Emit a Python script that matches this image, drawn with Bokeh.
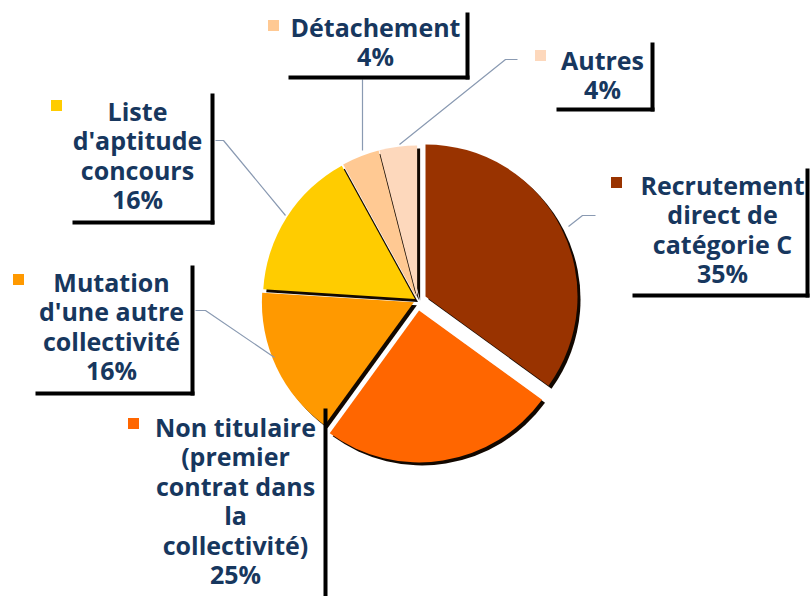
import math
from bokeh.plotting import figure
from bokeh.models import Range1d
from bokeh.embed import file_html
from bokeh.resources import INLINE
from bokeh.core.properties import value

# ---- data ----
categories = [
    "Recrutement\ndirect de\ncatégorie C",
    "Non titulaire\n(premier\ncontrat dans\nla\ncollectivité)",
    "Mutation\nd'une autre\ncollectivité",
    "Liste\nd'aptitude\nconcours",
    "Détachement",
    "Autres",
]
values = [35, 25, 16, 16, 4, 4]
colors = ["#993300", "#FF6600", "#FF9900", "#FFCC00", "#FFC993", "#FDD8BC"]

# ---- layout / style (screen pixel coordinates of the 811x597 window) ----
explode = [9, 10, 4, 3, 3, 3]
PIE_CX, PIE_CY, PIE_R = 417, 300, 152
SHADOW = 3
# text block: (center x, first-line center y)
label_pos = [(722, 184), (235, 426), (111, 281), (137, 110), (375, 26), (602, 59)]
square_pos = [(616, 182), (133, 423), (18, 279), (56, 105), (273, 25), (540, 55)]
# label-shadow lines: right (x, y0, y1), bottom (y, x0, x1) or None
frame_right = [(807, 168, 297), (325, 408, 600), (192, 265, 395), (212, 93, 224), (467, 12, 79), (652, 42, 111)]
frame_bottom = [(295, 632, 807), None, (393, 35, 192), (222, 72, 212), (77, 288, 467), (109, 556, 652)]
leaders = [
    [(595, 215), (582, 215), (568, 226)],
    None,
    [(195, 310), (205, 310), (274, 357)],
    [(215, 140), (223, 140), (285, 215)],
    [(362, 79), (362, 150)],
    [(517, 59), (505, 59), (399, 144)],
]
LH = 29.5
FONT = "Open Sans"
FONT_SIZE = "25px"
TEXT_COLOR = "#17375E"

W, H = 810, 596


def X(px):
    return px


def Y(py):
    return 597 - py


p = figure(width=W, height=H, output_backend="svg", toolbar_location=None,
           x_range=Range1d(0, W), y_range=Range1d(597 - H, 597), min_border=0)
p.axis.visible = False
p.xgrid.visible = False
p.ygrid.visible = False
p.outline_line_color = None
p.background_fill_color = "white"
p.border_fill_color = "white"

total = sum(values)
starts, ends, xs, ys = [], [], [], []
cum = 0
for v, e in zip(values, explode):
    a0 = math.pi / 2 - 2 * math.pi * cum / total
    a1 = math.pi / 2 - 2 * math.pi * (cum + v) / total
    mid = (a0 + a1) / 2
    starts.append(a0)
    ends.append(a1)
    xs.append(X(PIE_CX) + e * math.cos(mid))
    ys.append(Y(PIE_CY) + e * math.sin(mid))
    cum += v

# slice shadows
p.wedge(x=[x + SHADOW for x in xs], y=[y - SHADOW for y in ys], radius=PIE_R,
        radius_units="screen", start_angle=starts, end_angle=ends,
        direction="clock", fill_color="#120800", line_color=None)
# slices
p.wedge(x=xs, y=ys, radius=PIE_R, radius_units="screen", start_angle=starts,
        end_angle=ends, direction="clock", fill_color=colors, line_color=None)

# leaders
for ld in leaders:
    if ld is None:
        continue
    p.line([X(a) for a, b in ld], [Y(b) for a, b in ld], line_color="#8A9AB2", line_width=1.2)

# label frames (shadow strips)
for fr in frame_right:
    x, y0, y1 = fr
    p.segment(x0=[X(x)], y0=[Y(y0)], x1=[X(x)], y1=[Y(y1)], line_color="black", line_width=4)
for fb in frame_bottom:
    if fb is None:
        continue
    y, x0, x1 = fb
    p.segment(x0=[X(x0)], y0=[Y(y)], x1=[X(x1) + 2], y1=[Y(y)], line_color="black", line_width=4)

# legend squares
p.scatter(x=[X(a) for a, b in square_pos], y=[Y(b) for a, b in square_pos], marker="square",
          size=11, fill_color=colors, line_color=None)

# label texts
for cat, v, (lx, ly) in zip(categories, values, label_pos):
    lines = cat.split("\n") + [f"{v}%"]
    p.text(x=[X(lx)] * len(lines), y=[Y(ly + i * LH) for i in range(len(lines))], text=lines,
           text_font=value(FONT), text_font_size=FONT_SIZE, text_font_style="bold",
           text_color=TEXT_COLOR, text_align="center", text_baseline="middle")

open("out.html", "w").write(file_html(p, INLINE))
